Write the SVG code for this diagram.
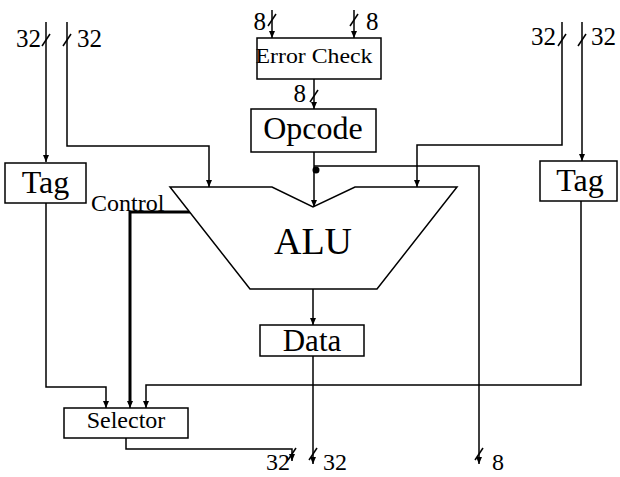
<svg xmlns="http://www.w3.org/2000/svg" width="620" height="477" viewBox="0 0 620 477">
<style>
.box{fill:#fff;stroke:#000;stroke-width:1.5}
.w{fill:none;stroke:#000;stroke-width:1.5}
.t{font-family:"Liberation Serif",serif;fill:#000}
.sl{stroke:#000;stroke-width:1.5;fill:none}
</style>
<defs>
<marker id="ah" markerWidth="8" markerHeight="6" refX="7" refY="3" orient="auto" markerUnits="userSpaceOnUse">
<path d="M0,0 L7,3 L0,6 z" fill="#000"/>
</marker>
</defs>
<rect width="620" height="477" fill="#fff"/>
<g id="connectors">
<path class="w" d="M46,22 V162" marker-end="url(#ah)"/>
<path class="w" d="M67,22 V146 H209 V187" marker-end="url(#ah)"/>
<path class="w" d="M562,22 V145 H417 V187" marker-end="url(#ah)"/>
<path class="w" d="M582,22 V161" marker-end="url(#ah)"/>
<path class="w" d="M272,10 V38" marker-end="url(#ah)"/>
<path class="w" d="M354,10 V38" marker-end="url(#ah)"/>
<path class="w" d="M314,79 V109" marker-end="url(#ah)"/>
<path class="w" d="M314,152 V207" marker-end="url(#ah)"/>
<path class="w" d="M314,166 H479 V464" marker-end="url(#ah)"/>
<circle cx="316" cy="170" r="3.5" fill="#000"/>
<path class="w" d="M313,289 V325" marker-end="url(#ah)"/>
<path class="w" d="M313,356 V464" marker-end="url(#ah)"/>
<path class="w" d="M46,203 V387 H106 V408" marker-end="url(#ah)"/>
<path class="w" d="M581,201 V385 H146 V408" marker-end="url(#ah)"/>
<path fill="none" stroke="#000" stroke-width="3" d="M193,212 H130 V404"/>
<path class="w" d="M130,400 V408" marker-end="url(#ah)"/>
<path class="w" d="M126,438 V449 H292 V461" marker-end="url(#ah)"/>
<g class="sl">
<path d="M42,46 L50,34"/>
<path d="M63,46 L71,34"/>
<path d="M558,46 L566,34"/>
<path d="M578,46 L586,34"/>
<path d="M268,26 L276,14"/>
<path d="M350,26 L358,14"/>
<path d="M310,102 L318,90"/>
<path d="M475,460 L483,448"/>
<path d="M309,460 L317,448"/>
<path d="M288,460 L296,448"/>
</g>
</g>
<g id="tag-left">
<rect class="box" x="5" y="163" width="81" height="40"/>
<text class="t" x="45.5" y="193" font-size="32" text-anchor="middle">Tag</text>
</g>
<g id="tag-right">
<rect class="box" x="540" y="161" width="77" height="40"/>
<text class="t" x="580" y="191" font-size="32" text-anchor="middle">Tag</text>
</g>
<g id="error-check">
<rect class="box" x="257" y="38" width="124" height="41"/>
<text class="t" x="314" y="63" font-size="22" text-anchor="middle" textLength="117" lengthAdjust="spacingAndGlyphs">Error Check</text>
</g>
<g id="opcode">
<rect class="box" x="251" y="109" width="125" height="43"/>
<text class="t" x="313" y="139" font-size="32" text-anchor="middle">Opcode</text>
</g>
<g id="alu">
<polygon class="box" points="170,187 272,187 313,207 355,187 457,187 377,289 250,289"/>
<text class="t" x="313" y="254" font-size="38" text-anchor="middle">ALU</text>
</g>
<g id="data">
<rect class="box" x="260" y="325" width="104" height="31"/>
<text class="t" x="312" y="351" font-size="31" text-anchor="middle">Data</text>
</g>
<g id="selector">
<rect class="box" x="64" y="408" width="124" height="30"/>
<text class="t" x="126" y="428" font-size="24" text-anchor="middle">Selector</text>
</g>
<g id="labels">
<text class="t" x="91" y="211" font-size="24">Control</text>
<text class="t" x="41" y="47" font-size="25" text-anchor="end">32</text>
<text class="t" x="77" y="47" font-size="25">32</text>
<text class="t" x="556" y="45" font-size="25" text-anchor="end">32</text>
<text class="t" x="591" y="45" font-size="25">32</text>
<text class="t" x="266" y="30" font-size="25" text-anchor="end">8</text>
<text class="t" x="366" y="30" font-size="25">8</text>
<text class="t" x="306" y="102" font-size="25" text-anchor="end">8</text>
<text class="t" x="290" y="470" font-size="24" text-anchor="end">32</text>
<text class="t" x="323" y="470" font-size="24">32</text>
<text class="t" x="492" y="470" font-size="24">8</text>
</g>
</svg>
